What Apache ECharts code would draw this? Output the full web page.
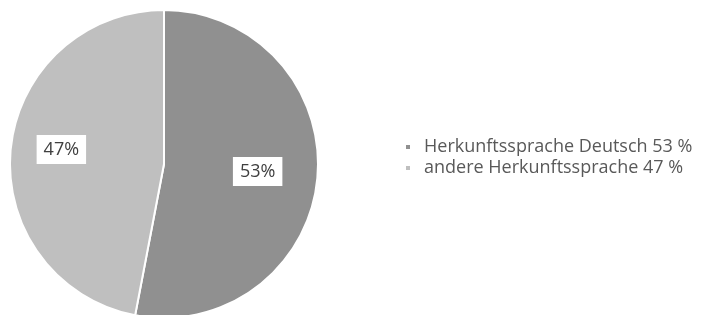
<!DOCTYPE html>
<html>
<head>
<meta charset="utf-8">
<script src="https://cdn.jsdelivr.net/npm/echarts@6/dist/echarts.min.js"></script>
<style>
  html, body { margin: 0; padding: 0; background: #fff; }
  #chart { width: 702px; height: 315px; }
</style>
</head>
<body>
<div id="chart"></div>
<script>
const languages = ['Herkunftssprache Deutsch', 'andere Herkunftssprache'];
const shares = [53, 47];
const sliceColors = ['#909090', '#bfbfbf'];
// label nudges so they sit where the original had them
const labelOffsets = [[14, 0], [-23, -7]];

const chart = echarts.init(document.getElementById('chart'));

chart.setOption({
  animation: false,
  legend: {
    orient: 'vertical',
    left: 399,
    top: 133,
    itemWidth: 6,
    itemHeight: 6,
    itemGap: 3,
    icon: 'rect',
    textStyle: {
      fontFamily: 'Open Sans',
      fontSize: 18,
      color: '#595959',
      padding: [0, 0, 0, 8]
    },
    formatter: function (name) {
      const i = languages.indexOf(name);
      return name + ' ' + shares[i] + ' %';
    },
    data: languages
  },
  series: [
    {
      type: 'pie',
      center: [164, 164],
      radius: 154,
      startAngle: 90,
      clockwise: true,
      itemStyle: {
        borderColor: '#fff',
        borderWidth: 2
      },
      label: {
        show: true,
        position: 'inside',
        formatter: '{c}%',
        backgroundColor: '#fff',
        color: '#404040',
        fontFamily: 'Open Sans',
        fontSize: 18,
        padding: [6, 7, 5, 7]
      },
      labelLine: {show: false},
      emphasis: {disabled: true},
      data: languages.map((name, i) => ({
        name: name,
        value: shares[i],
        itemStyle: {color: sliceColors[i]},
        label: {offset: labelOffsets[i]}
      }))
    }
  ]
});
</script>
</body>
</html>
